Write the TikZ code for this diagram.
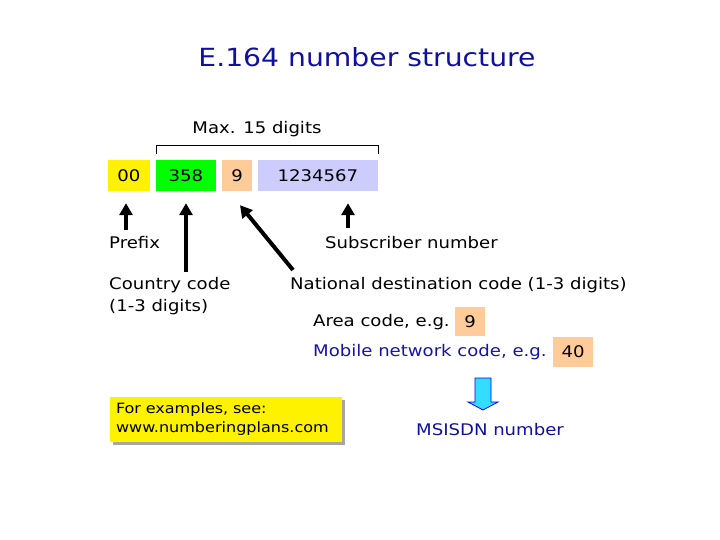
\documentclass[tikz,border=0pt]{standalone}
\usepackage{fontspec}
\setmainfont[FakeStretch=1.13]{DejaVu Sans}
\usetikzlibrary{arrows.meta,shadows}
\definecolor{ttl}{RGB}{16,16,160}
\definecolor{peach}{RGB}{255,204,153}
\definecolor{lav}{RGB}{204,204,255}
\definecolor{mnc}{RGB}{20,20,170}
\definecolor{bluearrow}{RGB}{51,221,255}
\begin{document}
\begin{tikzpicture}[x=1pt,y=-1pt,
  txt/.style={inner sep=0pt, font=\fontsize{16}{19}\selectfont, anchor=west},
  digit/.style={minimum height=31pt, inner sep=0pt, font=\fontsize{16}{19}\selectfont},
  arr/.style={line width=4pt, -{Triangle[width=13pt,length=12pt]}}]
\useasboundingbox (0,0) rectangle (720,540);
\node[font=\fontsize{25}{30}\selectfont, text=ttl] (title) at (367,57) {E.164 number structure};
\node[txt, anchor=center] (max) at (257,129) {Max. 15 digits};
% digit boxes
\node[digit, fill=yellow, minimum width=42pt] (b00) at (129,175.5) {00};
\node[digit, fill=green, minimum width=60pt] (b358) at (186,175.5) {358};
\node[digit, fill=peach, minimum width=30pt] (b9) at (237,175.5) {9};
\node[digit, fill=lav, minimum width=120pt] (bsub) at (318,175.5) {1234567};
% bracket
\draw ([yshift=6pt]b358.north west) -- ([yshift=15pt]b358.north west)
  -- ([yshift=15pt]bsub.north east) -- ([yshift=6pt]bsub.north east);
% labels
\node[txt] (prefix) at (109,243) {Prefix};
\node[txt] (subs) at (325,243) {Subscriber number};
\node[txt] (cc1) at (109,285) {Country code};
\node[txt] (cc2) at (109,307) {(1-3 digits)};
\node[txt] (ndc) at (290,285) {National destination code (1-3 digits)};
\node[txt] (area) at (313,322) {Area code, e.g.};
\node[digit, fill=peach, minimum width=30pt, minimum height=29pt] (b9b) at (470,321.5) {9};
\node[txt, text=mnc] (mob) at (313,352) {Mobile network code, e.g.};
\node[digit, fill=peach, minimum width=40pt, minimum height=30pt] (b40) at (573,352) {40};
% arrows
\coordinate (pa) at (126,230);
\draw[arr] (pa) -- ([yshift=-12pt]b00.south -| pa);
\coordinate (ca) at (186,272);
\draw[arr] (ca) -- ([yshift=-12pt]b358.south);
\coordinate (na) at (293,270);
\draw[arr] (na) -- ([xshift=3pt,yshift=-14pt]b9.south);
\coordinate (sa) at (348,228);
\draw[arr] (sa) -- ([yshift=-12pt]bsub.south -| sa);
% block arrow
\draw[blue, fill=bluearrow, line width=0.8pt] (475,378) -- (491,378) -- (491,402) -- (498,402)
  -- (483,410) -- (468,402) -- (475,402) -- cycle;
\node[txt, anchor=center, text=ttl] (msisdn) at (490,430) {MSISDN number};
% examples box
\node[fill=yellow, drop shadow={shadow xshift=3pt, shadow yshift=-3pt, fill=black!35, opacity=1},
  minimum width=232pt, minimum height=45pt, inner sep=0pt, text width=220pt, align=left,
  font=\fontsize{14.2}{19}\selectfont] (ex) at (226,419.5) {For examples, see:\\www.numberingplans.com};
\end{tikzpicture}
\end{document}
